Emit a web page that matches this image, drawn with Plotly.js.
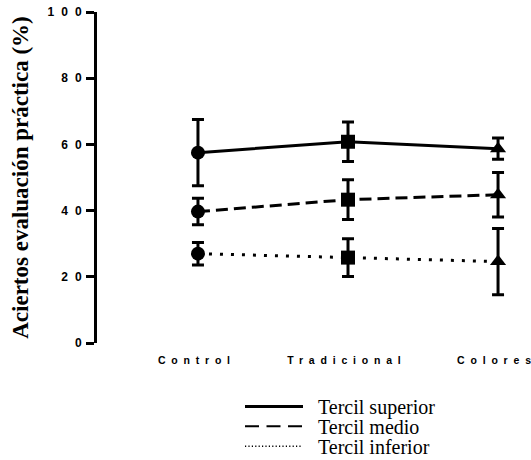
<!DOCTYPE html>
<html>
<head>
<meta charset="utf-8">
<script src="https://cdn.plot.ly/plotly-3.0.1.min.js"></script>
<style>
  html, body { margin: 0; padding: 0; background: #fff; }
  #chart { width: 531px; height: 460px; }
</style>
</head>
<body>
<div id="chart"></div>
<script>
// Data
const categories = ['Control', 'Tradicional', 'Colores'];
const seriesNames = ['Tercil superior', 'Tercil medio', 'Tercil inferior'];
const superior = [57.5, 60.8, 58.7];
const superiorErr = [10, 6, 3.2];
const medio = [39.7, 43.3, 44.8];
const medioErr = [4, 6, 6.7];
const inferior = [27.0, 25.8, 24.6];
const inferiorErr = [3.4, 5.7, 10];
const yTickVals = [0, 20, 40, 60, 80, 100];
const yTickText = ['0', '20', '40', '60', '80', '100'];

// spaced-out lettering (no trailing space after the last glyph)
const spaced = (s, ls) => s.length > 1
  ? '<span style="letter-spacing:' + ls + 'px">' + s.slice(0, -1) + '</span>' + s.slice(-1)
  : s;

// legend sample styles: visible sample length ~57px inside a wider item
function repeatPattern(on, off, total) {
  const parts = [];
  let len = 0;
  while (len + on <= total) { parts.push(on + 'px', off + 'px'); len += on + off; }
  parts[parts.length - 1] = '1000px';
  return parts.join(',');
}
const legendCss =
  '.legend .legendlines path { stroke-dasharray: 58px,1000px !important; }\n' +
  '.legend2 .legendlines path { stroke-dasharray: ' + repeatPattern(14, 7.5, 58) + ' !important; stroke-width: 2px !important; }\n' +
  '.legend3 .legendlines path { stroke-dasharray: ' + repeatPattern(1.2, 2.2, 58) + ' !important; stroke-width: 1.5px !important; }\n';
const styleEl = document.createElement('style');
styleEl.textContent = legendCss;
document.head.appendChild(styleEl);

const markerSymbols = ['circle', 'square', 'triangle-up'];
const values = [superior, medio, inferior];
const errors = [superiorErr, medioErr, inferiorErr];
const dashes = ['solid', '12px,6px', '3px,8px'];
const legendIds = ['legend', 'legend2', 'legend3'];

const traces = [];
values.forEach((vals, i) => {
  traces.push({
    x: categories, y: vals, type: 'scatter', mode: 'lines',
    name: seriesNames[i], legend: legendIds[i],
    line: { color: '#000', width: 3, dash: dashes[i] },
    hoverinfo: 'skip'
  });
  traces.push({
    x: categories, y: vals, type: 'scatter', mode: 'markers',
    showlegend: false,
    marker: { color: '#000', size: 14, symbol: markerSymbols },
    error_y: { type: 'data', array: errors[i], visible: true, color: '#000', thickness: 3, width: 6 },
    hoverinfo: 'skip'
  });
});

// plot area in pixels: left 97, width 424, top 12, height 331.5
const toPaperX = px => (px - 97) / 424;
const toPaperY = py => (343.5 - py) / 331.5;
const legendBase = {
  xanchor: 'left', yanchor: 'middle',
  x: toPaperX(240), bgcolor: 'rgba(0,0,0,0)', borderwidth: 0, itemwidth: 68,
  font: { family: 'Liberation Serif, Times New Roman, serif', size: 20, color: '#000' }
};

const layout = {
  width: 531, height: 460,
  margin: { l: 97, r: 10, t: 12, b: 116.5, autoexpand: false },
  paper_bgcolor: '#fff', plot_bgcolor: '#fff',
  showlegend: true,
  legend: Object.assign({}, legendBase, { y: toPaperY(407) }),
  legend2: Object.assign({}, legendBase, { y: toPaperY(427) }),
  legend3: Object.assign({}, legendBase, { y: toPaperY(447) }),
  xaxis: {
    type: 'category', range: [-0.673, 2.153], automargin: false,
    showline: false, showgrid: false, zeroline: false, ticks: '', tickangle: 0,
    tickvals: categories, ticktext: categories.map(c => spaced(c, 5.8)),
    tickfont: { family: 'Liberation Sans, Arial, sans-serif', size: 10.5, color: '#000', weight: 'bold' },
    ticklabelstandoff: 9, ticklabelshift: -4
  },
  yaxis: {
    range: [0, 100], showline: true, linewidth: 3, linecolor: '#000', automargin: false,
    showgrid: false, zeroline: false,
    ticks: 'outside', ticklen: 8, tickwidth: 3, tickcolor: '#000',
    tickvals: yTickVals, ticktext: yTickText.map(t => spaced(t, 7)),
    tickfont: { family: 'Liberation Sans, Arial, sans-serif', size: 12, color: '#000', weight: 'bold' },
    ticklabelstandoff: 2,
    title: {
      text: 'Aciertos evaluación práctica (%)',
      font: { family: 'Liberation Serif, Times New Roman, serif', size: 23, color: '#000', weight: 'bold' },
      standoff: 13
    }
  }
};

Plotly.newPlot('chart', traces, layout, { staticPlot: true, displayModeBar: false });
</script>
</body>
</html>
